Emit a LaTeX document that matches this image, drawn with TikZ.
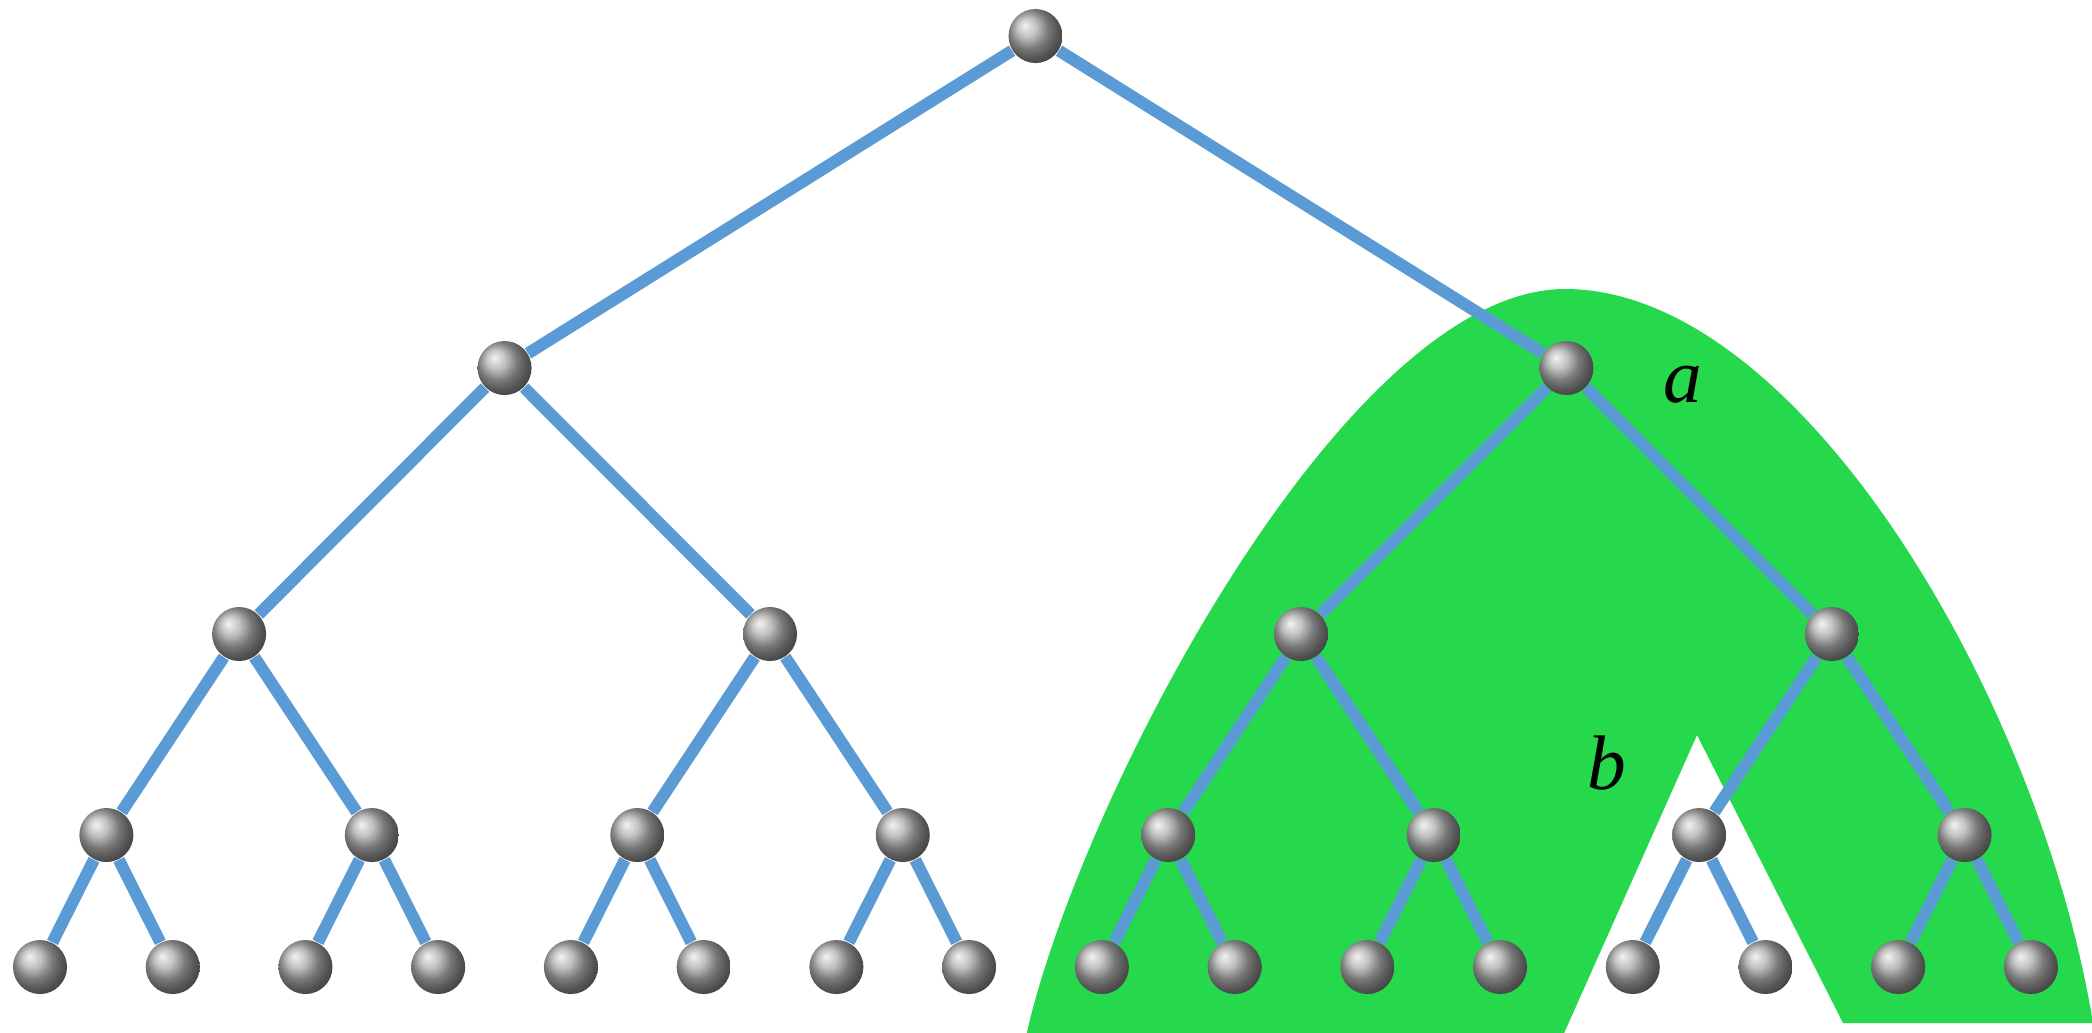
\documentclass[tikz,border=0pt]{standalone}
\usepackage{fontspec}
\setmainfont{Liberation Serif}
\usetikzlibrary{backgrounds}

\definecolor{branchblue}{RGB}{91,155,213}
\definecolor{zonegreen}{RGB}{38,217,76}

\begin{document}
\begin{tikzpicture}[
  x=0.01cm, y=-0.01cm,
  bead/.style={circle, inner sep=0pt, minimum size=0.54cm, ball color=gray!65},
  branch/.style={draw=branchblue, line width=0.12cm},
  zone/.style={fill=zonegreen},
  lbl/.style={font=\fontsize{22}{26}\selectfont\itshape, inner sep=0pt}
]
  \useasboundingbox (0,0) rectangle (2092,1032);

  % beads, one row per level
  \foreach \lev/\yy in {0/36,1/368,2/634,3/835,4/967} {
    \pgfmathtruncatemacro\last{2^\lev-1}
    \foreach \i in {0,...,\last}
      \node[bead] (n-\lev-\i) at ({40+132.73*(2^(4-\lev)*(\i+0.5)-0.5)}, \yy) {};
  }
  \node[lbl] (la) at (1683,385) {a};
  \node[lbl] (lb) at (1607,763) {b};

  \begin{scope}[on background layer]
    % green subtree region
    \fill[zone] (1027,1040) -- (1561,1040) -- (1697,735) -- (1843,1023) -- (2100,1023)
      -- (2093,1023) .. controls (2040,700) and (1800,289) .. (1565,289)
      .. controls (1345,289) and (1080,800) .. (1027,1032)
      -- cycle;
    % branches
    \foreach \lev in {1,...,4} {
      \pgfmathtruncatemacro\up{\lev-1}
      \pgfmathtruncatemacro\last{2^\lev-1}
      \foreach \i in {0,...,\last} {
        \pgfmathtruncatemacro\pidx{div(\i,2)}
        \draw[branch] (n-\up-\pidx) -- (n-\lev-\i);
      }
    }
  \end{scope}
\end{tikzpicture}
\end{document}
